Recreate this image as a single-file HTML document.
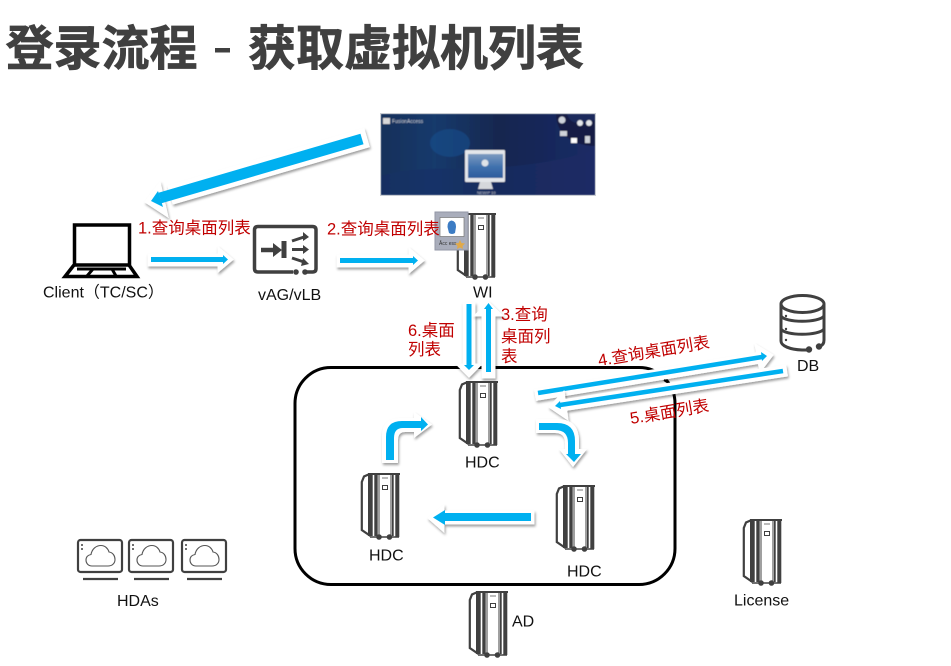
<!DOCTYPE html>
<html><head><meta charset="utf-8">
<style>
html,body{margin:0;padding:0;background:#fff;width:951px;height:666px;overflow:hidden}
svg{display:block}
text{font-family:"Liberation Sans","Noto Sans CJK SC",sans-serif;font-size:16px}
.t{fill:#111}
.r{fill:#c00000;font-size:16.5px}
.h{font-family:"Liberation Sans","Noto Sans CJK SC",sans-serif;font-size:48px;font-weight:700;fill:#404040;stroke:#404040;stroke-width:.7px}
.w{fill:#fff;stroke:#fff;stroke-linejoin:miter}
.b{fill:#00b0f0}
</style></head><body>
<svg width="951" height="666" viewBox="0 0 951 666" xmlns="http://www.w3.org/2000/svg">
<defs>
<filter id="s" x="-20%" y="-40%" width="140%" height="180%"><feDropShadow dx="1" dy="2" stdDeviation="1.2" flood-color="#000" flood-opacity=".38"/></filter>
<filter id="bl" x="0" y="0" width="100%" height="100%"><feGaussianBlur stdDeviation=".6"/></filter>
<linearGradient id="sky" x1="0" y1="0" x2="1" y2="0"><stop offset="0" stop-color="#14305a"/><stop offset=".25" stop-color="#123a6c"/><stop offset=".55" stop-color="#14274f"/><stop offset="1" stop-color="#1b2a66"/></linearGradient>
<linearGradient id="scr" x1="0" y1="0" x2="0" y2="1"><stop offset="0" stop-color="#7d9bc0"/><stop offset=".55" stop-color="#3f70ad"/><stop offset="1" stop-color="#2d5c9c"/></linearGradient>
<g id="srv" fill="none" stroke="#404040">
<path d="M7.500 1.500 L3 3.500 L.8 9 V57 L9.500 63" stroke-width="2.200"/>
<path d="M7 1 H39" stroke-width="2"/>
<rect x="7" y="1" width="4.700" height="62" fill="#404040" stroke="none"/>
<rect x="13.300" y="1" width="3.400" height="62" fill="#404040" stroke="none"/>
<path d="M18 1 V63" stroke-width="1"/>
<path d="M30 1 V63" stroke-width="1"/>
<rect x="31" y="1" width="1.700" height="62" fill="#404040" stroke="none"/>
<rect x="34.300" y="1" width="4" height="63" fill="#404040" stroke="none"/>
<rect x="21.500" y="12.500" width="5" height="4" stroke-width="1"/>
<path d="M21 5 H27" stroke-width="1" stroke="#777"/>
<circle cx="18" cy="64" r="2.800" fill="#404040" stroke="none"/>
<circle cx="28.500" cy="64" r="2.800" fill="#404040" stroke="none"/>
<path d="M9 64 H38" stroke-width="1.400"/>
</g>
<g id="hda" fill="none" stroke="#404040">
<rect x="1" y="1" width="44" height="32" rx="2.500" stroke-width="2.200"/>
<path d="M15 27 C11 27 9 24 9 21 C9 18 11 16 14 15.500 C15 10 19 6.500 24 6.500 C28 6.500 31 9.500 32 13 C36 13.500 38 17 38 20.500 C38 24.500 35 27 31 27 Z" stroke-width="1.100" stroke="#555"/>
<circle cx="5" cy="6" r="1" fill="#404040" stroke="none"/><circle cx="5" cy="10" r="1" fill="#404040" stroke="none"/>
<path d="M6 40 H41" stroke-width="2.200"/>
</g>
</defs>

<text class="h" x="5.500" y="65">登录流程</text>
<rect x="215" y="48" width="15" height="4.500" fill="#404040"/>
<text class="h" x="248" y="65">获取虚拟机列表</text>

<!-- Portal screenshot -->
<rect x="380" y="113" width="216" height="83" fill="#c8ccd2"/>
<g filter="url(#bl)">
<rect x="381" y="114" width="214" height="81" fill="url(#sky)"/>
<ellipse cx="450" cy="143" rx="20" ry="14" fill="#1a4f8c" opacity=".6"/>
<path d="M381 176 C430 160 500 180 595 150 V195 H381Z" fill="#1c2f66" opacity=".6"/>
<path d="M595 114 V146 C575 146 556 135 556 114Z" fill="#121b45"/>
<path d="M595 120 C585 122 571 128 567 114 H595Z" fill="#1b2a5c"/>
<text x="392" y="123" style="font-size:5px" fill="#c5cad4">FusionAccess</text>
<rect x="383" y="118" width="7" height="6" fill="#d8d8d8"/>
<rect x="465" y="150" width="40" height="32" rx="1" fill="#e3e6ea"/>
<rect x="468" y="154" width="35" height="24" fill="url(#scr)"/>
<circle cx="485" cy="163" r="3.500" fill="#dfe3e8"/>
<path d="M480 182 H491 L493 189 H478Z" fill="#d5d8dc"/>
<text x="477" y="194" style="font-size:4px" fill="#c5cad4">NEWIP 10</text>
<circle cx="562" cy="120" r="3.500" fill="#cfd3da"/><circle cx="580" cy="123" r="3" fill="#e6e8ec"/><circle cx="589" cy="123" r="3" fill="#e6e8ec"/>
<rect x="560" y="131" width="7" height="5" fill="#cfd3da"/><rect x="571" y="138" width="6" height="5" fill="#fff"/><rect x="585" y="136" width="5" height="7" fill="#cfd3da"/>
</g>

<!-- Container -->
<rect x="295" y="367.500" width="380" height="217" rx="36" fill="none" stroke="#000" stroke-width="3"/>

<!-- Big diagonal arrow -->
<g filter="url(#s)"><path d="M367 137.500 L170 195" stroke="#fff" stroke-width="20" fill="none"/><polygon class="w" points="160,182 145,202 168,217"/></g>
<path d="M362 139 L160 198" stroke="#00b0f0" stroke-width="11" fill="none"/>
<polygon class="b" points="158,191 151,201 163,207"/>

<!-- Arrow 1 -->
<g filter="url(#s)"><polygon class="w" points="148,254 218,254 218,247 233,259.500 218,272 218,266 148,266"/></g>
<polygon class="b" points="151,257 223,257 223,255 228,259.500 223,264 223,262 151,262"/>
<!-- Arrow 2 -->
<g filter="url(#s)"><polygon class="w" points="337,255 409,255 409,248 424,260.500 409,273 409,267 337,267"/></g>
<polygon class="b" points="340,258 413,258 413,256 418,260.500 413,265 413,263 340,263"/>
<!-- Arrow 6 down -->
<g filter="url(#s)"><polygon class="w" points="463,303 475,303 475,364 482,364 469,377 456,364 463,364"/></g>
<polygon class="b" points="466.500,304 471.500,304 471.500,365 474,365 469,370 464,365 466.500,365"/>
<!-- Arrow 3 up -->
<g filter="url(#s)"><polygon class="w" points="482,378 495,378 495,316 503,316 488.500,302 474,316 482,316"/></g>
<polygon class="b" points="486,372 491,372 491,309 493,309 488.500,303 484,309 486,309"/>
<!-- Arrow 4 -->
<g filter="url(#s)"><path d="M535 395 L758 358" stroke="#fff" stroke-width="12" fill="none"/><polygon class="w" points="755,344 773,355 760,372"/></g>
<path d="M538 393 L762 357" stroke="#00b0f0" stroke-width="4.500" fill="none"/>
<polygon class="b" points="761,352 767,356 762,361"/>
<!-- Arrow 5 -->
<g filter="url(#s)"><path d="M787 370.500 L565 405" stroke="#fff" stroke-width="12" fill="none"/><polygon class="w" points="564,391 549,407 568,420"/></g>
<path d="M783 371 L560 405" stroke="#00b0f0" stroke-width="4.500" fill="none"/>
<polygon class="b" points="560,401 555,406 561,409"/>
<!-- Curved right -->
<g filter="url(#s)"><path class="w" stroke-width="0" d="M536 419 H557 Q579 419 579 441 V449 H587 L573 467 L559 449 H565 V443 Q565 433 555 433 H536Z"/></g>
<path class="b" d="M539 423 H557 Q575 423 575 441 V454 H581 L574 462 L566 454 H568 V443 Q568 430 555 430 H539Z"/>
<!-- Curved up -->
<g filter="url(#s)"><path class="w" stroke-width="0" d="M382 463 V436 Q382 418 400 418 H414 V412 L432 424.500 L414 438 V432 H405 Q398 432 398 440 V463Z"/></g>
<path class="b" d="M386 460 V437 Q386 421 402 421 H421 V417 L428 424.500 L421 431 V428 H403 Q394 428 394 438 V460Z"/>
<!-- Arrow left -->
<g filter="url(#s)"><polygon class="w" points="534,511 444,511 444,505 428,518 444,532 444,524 534,524"/></g>
<polygon class="b" points="531,513 445,513 445,510 433,517.500 445,525 445,521 531,521"/>

<!-- Small tick remaining on the container -->
<path d="M664 380 L667 382" stroke="#000" stroke-width="2"/>

<!-- Laptop -->
<g fill="none" stroke="#000">
<rect x="74.500" y="225" width="55" height="40" stroke-width="3.500"/>
<path d="M74 265 L65 276.500 H137 L129 265" stroke-width="3.500"/>
<path d="M77 269 H126" stroke-width="3"/>
<path d="M93 269 L87 276 M112 269 L116 276" stroke-width="3"/>
</g>

<!-- vAG -->
<g fill="none" stroke="#404040">
<path d="M293 272 H258 Q254.500 272 254.500 268.500 V230 Q254.500 226.500 258 226.500 H312.500 Q316 226.500 316 230 V268.500 Q316 272 312.500 272 H306" stroke-width="3.500"/>
<path d="M261 250 H275" stroke-width="4.500"/>
<path d="M284 241 V258" stroke-width="5"/>
<path d="M292 241 L304 237 M292 249.500 H304 M292 258 L304 262" stroke-width="3"/>
</g>
<polygon points="273,243 282,250 273,257" fill="#404040"/>
<polygon points="303,232 309,237 303,241" fill="#404040"/>
<polygon points="303,245 309,249.500 303,254" fill="#404040"/>
<polygon points="303,258 309,264 301,266" fill="#404040"/>
<circle cx="296" cy="272" r="2.800" fill="#404040"/><circle cx="305" cy="272" r="2.800" fill="#404040"/>

<!-- Servers -->
<use href="#srv" x="457" y="213"/>
<use href="#srv" x="459" y="381"/>
<use href="#srv" x="361" y="473"/>
<use href="#srv" x="556" y="485"/>
<use href="#srv" x="469" y="591"/>
<use href="#srv" x="743" y="519"/>

<!-- WI badge -->
<rect x="435" y="212" width="33" height="38" fill="#a9adbb" stroke="#9296a6"/>
<rect x="440" y="217.500" width="24" height="19" fill="#fff" stroke="#777" stroke-width=".7"/>
<path d="M447.500 227 Q447.500 221 451.500 220.500 Q456 221 456 227 L455 233 Q452 235 449 233Z" fill="#3c7cc4"/>
<text x="439" y="245" style="font-size:5px" fill="#333">Âcc ess</text>
<polygon points="460,240 461.500,243 465,243.500 462.500,246 463,249 460,247.500 457,249 457.500,246 455,243.500 458.500,243" fill="#e0a94a"/>

<!-- DB -->
<g fill="none" stroke="#404040" stroke-width="3">
<ellipse cx="802.500" cy="304" rx="21.500" ry="8.500"/>
<path d="M781 304 V341 C781 346 790 349.500 802 350 H807"/>
<path d="M824 304 V340 Q824 345 820 346"/>
<path d="M781 316 C785 323 819 323 824 316"/>
<path d="M781 329 C785 336 819 336 824 329"/>
</g>
<circle cx="809" cy="349.500" r="3.200" fill="#404040"/><circle cx="819" cy="346.500" r="3.200" fill="#404040"/>
<circle cx="786" cy="316" r="1.200" fill="#404040"/><circle cx="786" cy="329" r="1.200" fill="#404040"/><circle cx="786" cy="340" r="1.200" fill="#404040"/>

<!-- HDAs -->
<use href="#hda" x="77" y="539"/>
<use href="#hda" x="128" y="539"/>
<use href="#hda" x="181" y="539"/>

<!-- Labels -->
<text class="t" x="43" y="297.500">Client（TC/SC）</text>
<text class="t" x="258" y="300">vAG/vLB</text>
<text class="t" x="473" y="297.500">WI</text>
<text class="t" x="465" y="467.500">HDC</text>
<text class="t" x="369" y="560.500">HDC</text>
<text class="t" x="567" y="576.500">HDC</text>
<text class="t" x="797" y="371">DB</text>
<text class="t" x="117" y="606">HDAs</text>
<text class="t" x="512" y="626.500">AD</text>
<text class="t" x="734" y="605.500">License</text>

<text class="r" x="138" y="233.500">1.查询桌面列表</text>
<text class="r" x="327" y="234.500">2.查询桌面列表</text>
<text class="r" x="501" y="320">3.查询</text>
<text class="r" x="501" y="342">桌面列</text>
<text class="r" x="501" y="362">表</text>
<text class="r" x="408" y="336">6.桌面</text>
<text class="r" x="408" y="355">列表</text>
<text class="r" transform="translate(599 366) rotate(-9.500)">4.查询桌面列表</text>
<text class="r" transform="translate(631 424) rotate(-9.500)">5.桌面列表</text>
</svg>
</body></html>
